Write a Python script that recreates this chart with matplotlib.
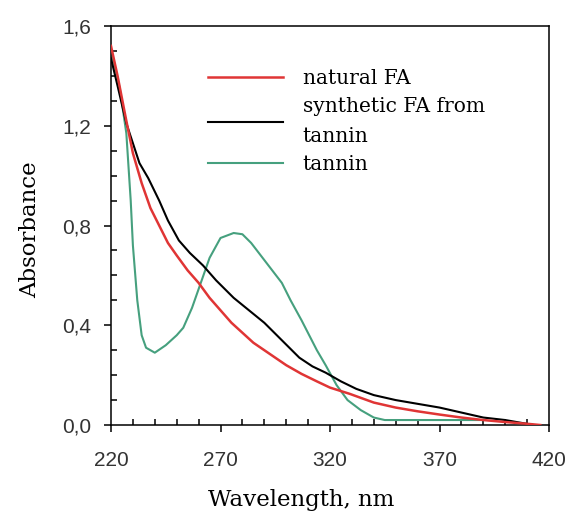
import matplotlib
matplotlib.use("Agg")
import matplotlib.pyplot as plt
from matplotlib.ticker import MultipleLocator, FixedLocator, FixedFormatter

# natural FA
wl_nat = [220, 223, 227, 230, 234, 238, 242, 246, 250, 255, 260, 265, 270, 275,
          280, 285, 290, 295, 300, 307, 314, 320, 329, 340, 350, 360, 370, 380,
          390, 400, 410, 416]
ab_nat = [1.52, 1.40, 1.22, 1.09, 0.97, 0.87, 0.80, 0.73, 0.68, 0.62, 0.57, 0.51,
          0.46, 0.41, 0.37, 0.33, 0.30, 0.27, 0.24, 0.205, 0.175, 0.15, 0.125,
          0.09, 0.07, 0.055, 0.042, 0.03, 0.02, 0.012, 0.005, 0.0]

# synthetic FA from tannin
wl_syn = [220, 223, 227, 230, 233, 237, 242, 246, 251, 256, 262, 268, 276, 283,
          290, 298, 306, 312, 318, 325, 332, 340, 350, 360, 370, 380, 390, 400, 413]
ab_syn = [1.47, 1.36, 1.21, 1.13, 1.05, 0.99, 0.90, 0.82, 0.74, 0.69, 0.64, 0.58,
          0.51, 0.46, 0.41, 0.34, 0.27, 0.235, 0.21, 0.175, 0.145, 0.12, 0.10,
          0.085, 0.07, 0.05, 0.03, 0.02, 0.0]

# tannin
wl_tan = [220, 224, 227, 229, 230, 232, 234, 236, 240, 245, 250, 253, 257, 261,
          265, 270, 276, 280, 284, 291, 298, 302, 307, 314, 318, 323, 328, 334,
          340, 345, 360, 375, 390]
ab_tan = [1.50, 1.35, 1.17, 0.90, 0.72, 0.50, 0.36, 0.31, 0.29, 0.32, 0.36, 0.39,
          0.47, 0.57, 0.67, 0.75, 0.77, 0.765, 0.73, 0.65, 0.57, 0.50, 0.42, 0.30,
          0.24, 0.16, 0.10, 0.06, 0.03, 0.02, 0.02, 0.02, 0.02]

x_ticks = [220, 270, 320, 370, 420]
y_ticks = [0.0, 0.4, 0.8, 1.2, 1.6]
y_tick_labels = ["0,0", "0,4", "0,8", "1,2", "1,6"]

serif = "DejaVu Serif"
sans = "Liberation Sans"

fig = plt.figure(figsize=(5.71, 5.13), dpi=100)
ax = fig.add_axes([0.1944, 0.1715, 0.7671, 0.7778])

ax.plot(wl_tan, ab_tan, color="#46a07e", lw=1.5, label="tannin", zorder=2)
ax.plot(wl_syn, ab_syn, color="black", lw=1.5, label="synthetic FA from\ntannin", zorder=3)
ax.plot(wl_nat, ab_nat, color="#e03535", lw=1.8, label="natural FA", zorder=4)

ax.set_xlim(220, 420)
ax.set_ylim(0, 1.6)

ax.xaxis.set_major_locator(FixedLocator(x_ticks))
ax.yaxis.set_major_locator(FixedLocator(y_ticks))
ax.yaxis.set_major_formatter(FixedFormatter(y_tick_labels))
ax.xaxis.set_minor_locator(MultipleLocator(10))
ax.yaxis.set_minor_locator(MultipleLocator(0.1))

ax.tick_params(which="major", direction="out", length=5, width=1.1,
               labelsize=15, top=False, right=False)
ax.tick_params(which="minor", direction="in", length=4, width=1.1,
               top=False, right=False)
ax.tick_params(axis="x", which="major", pad=14)
ax.tick_params(axis="y", which="major", pad=9)
for lab in ax.get_xticklabels() + ax.get_yticklabels():
    lab.set_fontfamily(sans)
    lab.set_color("#333333")

for sp in ax.spines.values():
    sp.set_linewidth(1.1)

ax.set_xlabel("Wavelength, nm", fontfamily=serif, fontsize=16.5, va="top")
ax.set_ylabel("Absorbance", fontfamily=serif, fontsize=16.5)
ax.xaxis.set_label_coords(0.434, -0.16)
ax.yaxis.set_label_coords(-0.16, 0.49)

handles, labels = ax.get_legend_handles_labels()
leg = ax.legend(handles[::-1], labels[::-1], loc="upper left",
                bbox_to_anchor=(0.2215, 0.893), frameon=False,
                prop={"family": serif, "size": 14.5},
                borderpad=0, borderaxespad=0,
                handlelength=3.7, handletextpad=1.0, labelspacing=0.45)
for t in leg.get_texts():
    t.set_linespacing(1.75)

fig.savefig("out.png", dpi=100)
